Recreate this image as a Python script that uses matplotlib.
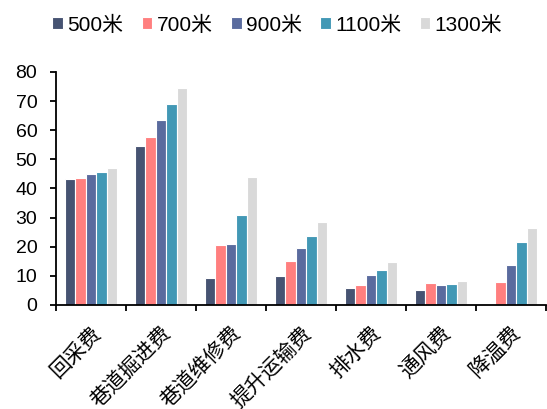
import numpy as np
import matplotlib

matplotlib.use('Agg')
import matplotlib.pyplot as plt

plt.rcParams['font.family'] = ['Liberation Sans', 'Noto Sans CJK SC']

categories = ['回采费', '巷道掘进费', '巷道维修费', '提升运输费', '排水费', '通风费', '降温费']
series_names = ['500米', '700米', '900米', '1100米', '1300米']
v500 = [43.3, 54.4, 9.4, 9.9, 5.7, 5.2, 0]
v700 = [43.7, 57.7, 20.5, 15.0, 6.8, 7.7, 7.9]
v900 = [44.9, 63.6, 21.0, 19.5, 10.2, 6.9, 13.7]
v1100 = [45.8, 68.8, 30.8, 23.8, 12.1, 7.3, 21.6]
v1300 = [47.0, 74.5, 43.9, 28.6, 14.9, 8.2, 26.3]
colors = ['#465372', '#ff7f7f', '#5a6b9e', '#4298b5', '#d9d9d9']

fig = plt.figure(figsize=(5.47, 4.09), dpi=100)
ax = fig.add_axes([0.1024, 0.2543, 0.896, 0.570])

x = np.arange(len(categories))
w = 0.15
handles = []
for i, (vals, name) in enumerate(zip([v500, v700, v900, v1100, v1300], series_names)):
    b = ax.bar(x + (i - 2) * w, vals, width=w, color=colors[i], edgecolor='white',
               linewidth=0.8, label=name)
    handles.append(b)

ax.set_xlim(-0.5, len(categories) - 0.5)
ax.set_ylim(0, 80)
ax.set_yticks(range(0, 81, 10))
ax.set_xticks(np.arange(-0.5, len(categories), 1.0))
ax.set_xticklabels([])
ax.set_xticks(x, minor=True)
ax.set_xticklabels(categories, minor=True, rotation=45, ha='right', va='top',
                   rotation_mode='anchor', fontsize=15)
ax.tick_params(axis='x', which='minor', length=0, pad=13)
ax.tick_params(axis='x', which='major', length=4.5, width=1.3, direction='out')
ax.tick_params(axis='y', length=4.5, width=1.3, direction='out', labelsize=14, pad=9)
for s in ['top', 'right']:
    ax.spines[s].set_visible(False)
for s in ['left', 'bottom']:
    ax.spines[s].set_linewidth(1.3)

fig.legend(handles=handles, loc='center', bbox_to_anchor=(0.507, 0.939), ncol=5,
           frameon=False, fontsize=15, handlelength=0.5, handleheight=0.5,
           handletextpad=0.2, columnspacing=0.9)

plt.savefig('out.png', dpi=100)
